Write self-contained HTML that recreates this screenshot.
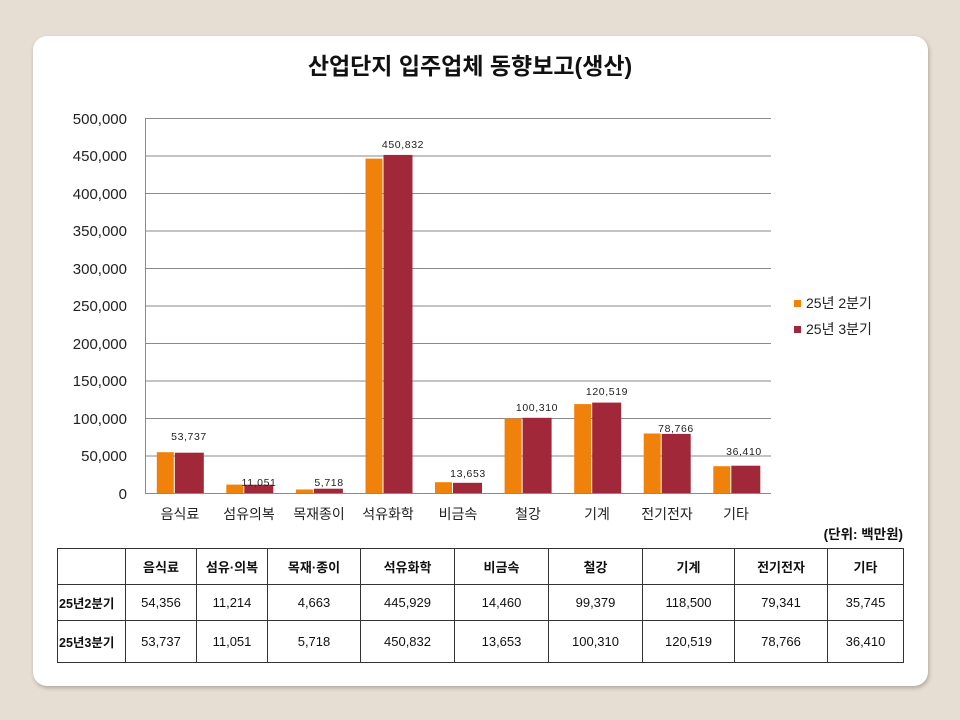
<!DOCTYPE html>
<html><head><meta charset="utf-8"><style>
body{margin:0;width:960px;height:720px;background:#e6ded3;font-family:"Liberation Sans","Noto Sans CJK KR",sans-serif;overflow:hidden}
.card{position:absolute;left:33px;top:36px;width:895px;height:650px;background:#fff;border-radius:14px;box-shadow:1px 2px 4px rgba(0,0,0,.25)}
table{position:absolute;left:57px;top:548px;border-collapse:collapse;font-size:13px;color:#111}
td{border:1px solid #333;text-align:center;padding:0}
.h td{font-weight:bold;height:35px}
.r td{height:35px}
.r2 td{height:41px}
td.rh{font-weight:bold;font-size:12.5px;text-align:left;padding-left:1px}
</style></head><body>
<div class="card"></div>
<svg width="960" height="720" style="position:absolute;left:0;top:0" font-family="Liberation Sans, Noto Sans CJK KR, sans-serif">
<text x="470" y="74" text-anchor="middle" font-size="23" font-weight="bold" fill="#111">산업단지 입주업체 동향보고(생산)</text>
<g stroke="#8a8a8a" stroke-width="1">
<line x1="145" y1="118.5" x2="771" y2="118.5"/><line x1="145" y1="156" x2="771" y2="156"/><line x1="145" y1="193.5" x2="771" y2="193.5"/><line x1="145" y1="231" x2="771" y2="231"/><line x1="145" y1="268.5" x2="771" y2="268.5"/><line x1="145" y1="306" x2="771" y2="306"/><line x1="145" y1="343.5" x2="771" y2="343.5"/><line x1="145" y1="381" x2="771" y2="381"/><line x1="145" y1="418.5" x2="771" y2="418.5"/><line x1="145" y1="456" x2="771" y2="456"/><line x1="145" y1="493.5" x2="771" y2="493.5"/><line x1="145.5" y1="118" x2="145.5" y2="494"/>
</g>
<g font-size="15" fill="#222" text-anchor="end">
<text x="127" y="124">500,000</text><text x="127" y="161">450,000</text><text x="127" y="199">400,000</text><text x="127" y="236">350,000</text><text x="127" y="274">300,000</text><text x="127" y="311">250,000</text><text x="127" y="349">200,000</text><text x="127" y="386">150,000</text><text x="127" y="424">100,000</text><text x="127" y="461">50,000</text><text x="127" y="499">0</text>
</g>
<g fill="#f0820c">
<rect x="156.8" y="452.2" width="17" height="40.8"/><rect x="226.3" y="484.6" width="17" height="8.4"/><rect x="295.9" y="489.5" width="17" height="3.5"/><rect x="365.5" y="158.6" width="17" height="334.4"/><rect x="435" y="482.2" width="17" height="10.8"/><rect x="504.6" y="418.5" width="17" height="74.5"/><rect x="574.2" y="404.1" width="17" height="88.9"/><rect x="643.7" y="433.5" width="17" height="59.5"/><rect x="713.3" y="466.2" width="17" height="26.8"/>
</g>
<g fill="#a12838">
<rect x="174.8" y="452.7" width="29" height="40.3"/><rect x="244.3" y="484.7" width="29" height="8.3"/><rect x="313.9" y="488.7" width="29" height="4.3"/><rect x="383.5" y="154.9" width="29" height="338.1"/><rect x="453" y="482.8" width="29" height="10.2"/><rect x="522.6" y="417.8" width="29" height="75.2"/><rect x="592.2" y="402.6" width="29" height="90.4"/><rect x="661.7" y="433.9" width="29" height="59.1"/><rect x="731.3" y="465.7" width="29" height="27.3"/>
</g>
<g font-size="10.5" fill="#222" text-anchor="middle" letter-spacing="0.6">
<text x="189" y="440">53,737</text><text x="259" y="486">11,051</text><text x="329" y="486">5,718</text><text x="403" y="148">450,832</text><text x="468" y="477">13,653</text><text x="537" y="411">100,310</text><text x="607" y="395">120,519</text><text x="676" y="432">78,766</text><text x="744" y="455">36,410</text>
</g>
<g font-size="14" fill="#222" text-anchor="middle">
<text x="180" y="519">음식료</text><text x="249" y="519">섬유의복</text><text x="319" y="519">목재종이</text><text x="388" y="519">석유화학</text><text x="458" y="519">비금속</text><text x="528" y="519">철강</text><text x="597" y="519">기계</text><text x="667" y="519">전기전자</text><text x="736" y="519">기타</text>
</g>
<rect x="794" y="300" width="7" height="7" fill="#f0820c"/><rect x="794" y="326" width="7" height="7" fill="#a12838"/>
<g font-size="14" fill="#222"><text x="806" y="308">25년 2분기</text><text x="806" y="334">25년 3분기</text></g>
<text x="903" y="539" text-anchor="end" font-size="13.5" font-weight="bold" fill="#111">(단위: 백만원)</text>
</svg>
<table>
<tr class="h"><td style="width:67px"></td><td style="width:70px">음식료</td><td style="width:70px">섬유·의복</td><td style="width:92px">목재·종이</td><td style="width:93px">석유화학</td><td style="width:93px">비금속</td><td style="width:93px">철강</td><td style="width:91px">기계</td><td style="width:92px">전기전자</td><td style="width:75px">기타</td></tr>
<tr class="r"><td class="rh">25년2분기</td><td>54,356</td><td>11,214</td><td>4,663</td><td>445,929</td><td>14,460</td><td>99,379</td><td>118,500</td><td>79,341</td><td>35,745</td></tr>
<tr class="r2"><td class="rh">25년3분기</td><td>53,737</td><td>11,051</td><td>5,718</td><td>450,832</td><td>13,653</td><td>100,310</td><td>120,519</td><td>78,766</td><td>36,410</td></tr>
</table>
</body></html>
